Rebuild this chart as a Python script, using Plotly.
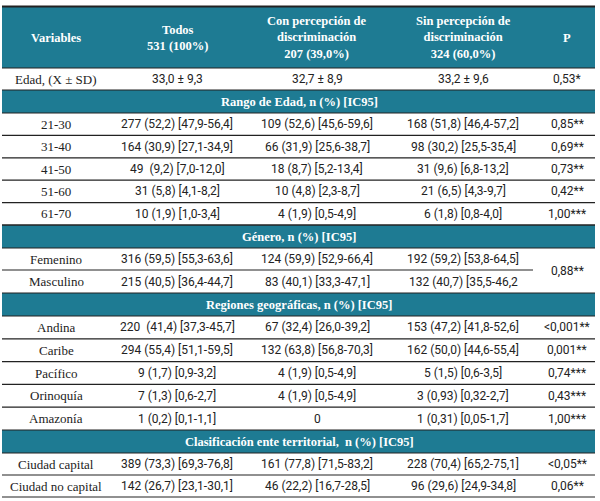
import plotly.graph_objects as go

# ---------------- data ----------------
header_labels = ["Variables", "Todos<br>531 (100%)",
                 "Con percepción de<br>discriminación<br>207 (39,0%)",
                 "Sin percepción de<br>discriminación<br>324 (60,0%)", "P"]

edad_label = "Edad, (X ± SD)"
edad_todos = "33,0 ± 9,3"
edad_con = "32,7 ± 8,9"
edad_sin = "33,2 ± 9,6"
edad_p = "0,53*"

sec_rango = "Rango de Edad, n (%) [IC95]"
rango_labels = ["21-30", "31-40", "41-50", "51-60", "61-70"]
rango_todos = ["277 (52,2) [47,9-56,4]", "164 (30,9) [27,1-34,9]", "49  (9,2) [7,0-12,0]",
               "31 (5,8) [4,1-8,2]", "10 (1,9) [1,0-3,4]"]
rango_con = ["109 (52,6) [45,6-59,6]", "66 (31,9) [25,6-38,7]", "18 (8,7) [5,2-13,4]",
             "10 (4,8) [2,3-8,7]", "4 (1,9) [0,5-4,9]"]
rango_sin = ["168 (51,8) [46,4-57,2]", "98 (30,2) [25,5-35,4]", "31 (9,6) [6,8-13,2]",
             "21 (6,5) [4,3-9,7]", "6 (1,8) [0,8-4,0]"]
rango_p = ["0,85**", "0,69**", "0,73**", "0,42**", "1,00***"]

sec_genero = "Género, n (%) [IC95]"
genero_labels = ["Femenino", "Masculino"]
genero_todos = ["316 (59,5) [55,3-63,6]", "215 (40,5) [36,4-44,7]"]
genero_con = ["124 (59,9) [52,9-66,4]", "83 (40,1) [33,3-47,1]"]
genero_sin = ["192 (59,2) [53,8-64,5]", "132 (40,7) [35,5-46,2"]
genero_p = "0,88**"

sec_region = "Regiones geográficas, n (%) [IC95]"
region_labels = ["Andina", "Caribe", "Pacífico", "Orinoquía", "Amazonía"]
region_todos = ["220  (41,4) [37,3-45,7]", "294 (55,4) [51,1-59,5]", "9 (1,7) [0,9-3,2]",
                "7 (1,3) [0,6-2,7]", "1 (0,2) [0,1-1,1]"]
region_con = ["67 (32,4) [26,0-39,2]", "132 (63,8) [56,8-70,3]", "4 (1,9) [0,5-4,9]",
              "4 (1,9) [0,5-4,9]", "0"]
region_sin = ["153 (47,2) [41,8-52,6]", "162 (50,0) [44,6-55,4]", "5 (1,5) [0,6-3,5]",
              "3 (0,93) [0,32-2,7]", "1 (0,31) [0,05-1,7]"]
region_p = ["&lt;0,001**", "0,001**", "0,74***", "0,43***", "1,00***"]

sec_ente = "Clasificación ente territorial,  n (%) [IC95]"
ente_labels = ["Ciudad capital", "Ciudad no capital"]
ente_todos = ["389 (73,3) [69,3-76,8]", "142 (26,7) [23,1-30,1]"]
ente_con = ["161 (77,8) [71,5-83,2]", "46 (22,2) [16,7-28,5]"]
ente_sin = ["228 (70,4) [65,2-75,1]", "96 (29,6) [24,9-34,8]"]
ente_p = ["&lt;0,05**", "0,06**"]

# ---------------- layout / style ----------------
TEAL = "#1e7b93"
LINE = "#222222"
X_LEFT, X_RIGHT = 2, 595
COL_X = [56, 177, 317, 463, 567]
P_COL_LEFT = 533
SERIF = "Liberation Serif"
SANS = "Roboto"
HEADER_TOP, HEADER_BOTTOM = 7, 68
H_ROW = 22.4
H_SEC = 23
NUM_SIZE = 12

fig = go.Figure()
shapes = []
annots = []


def txt(x, y, t, font, size, color="#222222", bold=False):
    annots.append(dict(x=x, y=y, xref="x", yref="y", text=(f"<b>{t}</b>" if bold else t),
                       showarrow=False, xanchor="center", yanchor="middle",
                       font=dict(family=font, size=size, color=color)))


def hline(y, x0=X_LEFT, x1=X_RIGHT, w=1.2):
    shapes.append(dict(type="line", xref="x", yref="y", x0=x0, x1=x1, y0=y, y1=y,
                       line=dict(color=LINE, width=w)))


# header
shapes.append(dict(type="rect", xref="x", yref="y", x0=X_LEFT, x1=X_RIGHT,
                   y0=HEADER_TOP, y1=HEADER_BOTTOM, fillcolor=TEAL, line=dict(width=0), layer="below"))
hline(HEADER_TOP - 0.5, w=2)
for cx, lab in zip(COL_X, header_labels):
    txt(cx, (HEADER_TOP + HEADER_BOTTOM) / 2, lab, SERIF, 12.5, "white", bold=True)
hline(HEADER_BOTTOM)

y = HEADER_BOTTOM


def data_row(y0, h, vals, skip_p=False):
    cy = y0 + h / 2
    txt(COL_X[0], cy, vals[0], SERIF, 13)
    for cx, v in zip(COL_X[1:4], vals[1:4]):
        txt(cx, cy, v, SANS, NUM_SIZE)
    if not skip_p:
        txt(COL_X[4], cy, vals[4], SANS, NUM_SIZE)
    return y0 + h


def section(y0, title):
    shapes.append(dict(type="rect", xref="x", yref="y", x0=X_LEFT, x1=X_RIGHT,
                       y0=y0, y1=y0 + H_SEC, fillcolor=TEAL, line=dict(width=0), layer="below"))
    txt(299, y0 + H_SEC / 2, title, SERIF, 12.5, "white", bold=True)
    hline(y0)
    hline(y0 + H_SEC)
    return y0 + H_SEC


# Edad
y = data_row(y, 22, [edad_label, edad_todos, edad_con, edad_sin, edad_p])
# Rango
y = section(y, sec_rango)
for i in range(len(rango_labels)):
    y = data_row(y, H_ROW, [rango_labels[i], rango_todos[i], rango_con[i], rango_sin[i], rango_p[i]])
    hline(y)
# Género
y = section(y, sec_genero)
g0 = y
y = data_row(y, 22, [genero_labels[0], genero_todos[0], genero_con[0], genero_sin[0], ""], skip_p=True)
hline(y, X_LEFT, P_COL_LEFT)
y = data_row(y, 23, [genero_labels[1], genero_todos[1], genero_con[1], genero_sin[1], ""], skip_p=True)
txt(COL_X[4], (g0 + y) / 2, genero_p, SANS, NUM_SIZE)
# Regiones
y = section(y, sec_region)
for i in range(len(region_labels)):
    y = data_row(y, 22.8, [region_labels[i], region_todos[i], region_con[i], region_sin[i], region_p[i]])
    if i < len(region_labels) - 1:
        hline(y)
# Clasificación
y = section(y, sec_ente)
for i in range(len(ente_labels)):
    y = data_row(y, 22, [ente_labels[i], ente_todos[i], ente_con[i], ente_sin[i], ente_p[i]])
    hline(y)

fig.update_layout(
    width=600, height=501,
    margin=dict(l=0, r=0, t=0, b=0),
    paper_bgcolor="white", plot_bgcolor="white",
    xaxis=dict(range=[0, 600], visible=False, fixedrange=True),
    yaxis=dict(range=[501, 0], visible=False, fixedrange=True),
    shapes=shapes, annotations=annots, showlegend=False,
)
fig.write_html("out.html", config={"displayModeBar": False},
               post_script="document.body.style.margin='0px';document.body.style.overflow='hidden';")
